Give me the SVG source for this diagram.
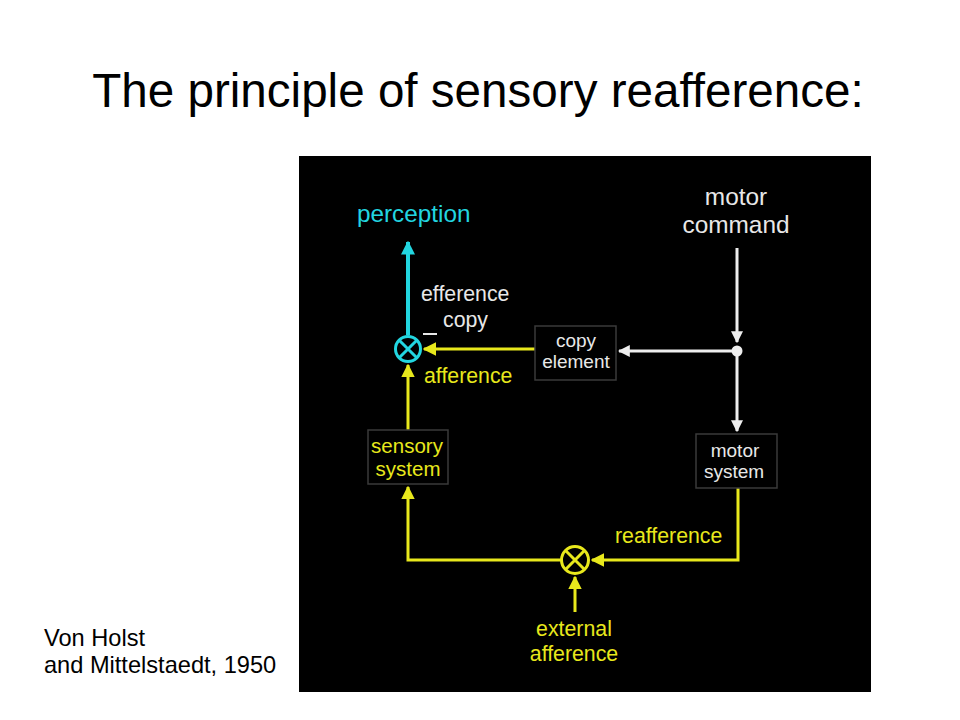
<svg xmlns="http://www.w3.org/2000/svg" width="960" height="720" viewBox="0 0 960 720">
<style>
text{font-family:"Liberation Sans",Arial,sans-serif}
.w{fill:#e8e8e8}.y{fill:#e8e81c}.c{fill:#22d6e0}
.lw{stroke:#eeeeee;stroke-width:3;fill:none}
.ly{stroke:#e8e81c;stroke-width:3;fill:none}
.lc{stroke:#22d6e0;stroke-width:4;fill:none}
.box{fill:#000;stroke:#3a3a3a;stroke-width:1.5}
.lbl{font-size:21.3px}
.sm{font-size:19px;text-anchor:middle}
</style>
<defs>
<marker id="aw" viewBox="0 0 10 10" refX="9" refY="5" markerWidth="4" markerHeight="4" orient="auto" markerUnits="strokeWidth"><path d="M0,0L10,5L0,10z" fill="#eeeeee"/></marker>
<marker id="ay" viewBox="0 0 10 10" refX="9" refY="5" markerWidth="4.5" markerHeight="4.5" orient="auto" markerUnits="strokeWidth"><path d="M0,0L10,5L0,10z" fill="#e8e81c"/></marker>
<marker id="ac" viewBox="0 0 10 10" refX="9" refY="5" markerWidth="3.5" markerHeight="3.5" orient="auto" markerUnits="strokeWidth"><path d="M0,0L10,5L0,10z" fill="#22d6e0"/></marker>
</defs>
<rect width="960" height="720" fill="#fff"/>
<text x="478" y="107" font-size="47.6" text-anchor="middle" fill="#000">The principle of sensory reafference:</text>
<g id="credit"><text x="44" y="646" font-size="23.6" fill="#000">Von Holst</text><text x="44" y="673" font-size="23.6" fill="#000">and Mittelstaedt, 1950</text></g>
<rect x="299" y="156" width="572" height="536" fill="#000"/>
<g id="connectors">
<line class="lc" x1="408" y1="335" x2="408" y2="242" marker-end="url(#ac)"/>
<line class="lw" x1="737" y1="248" x2="737" y2="342" marker-end="url(#aw)"/>
<line class="lw" x1="737" y1="351" x2="619" y2="351" marker-end="url(#aw)"/>
<line class="lw" x1="737" y1="351" x2="737" y2="431" marker-end="url(#aw)"/>
<line class="ly" x1="535" y1="349" x2="424" y2="349" marker-end="url(#ay)"/>
<polyline class="ly" points="738,488 738,560 592,560" marker-end="url(#ay)"/>
<line class="ly" x1="575" y1="612" x2="575" y2="577" marker-end="url(#ay)"/>
<polyline class="ly" points="561,560 408,560 408,487" marker-end="url(#ay)"/>
<line class="ly" x1="408" y1="430" x2="408" y2="365" marker-end="url(#ay)"/>
</g>
<g id="perception"><text class="c" x="357" y="222" font-size="24.3">perception</text></g>
<g id="comparator1"><circle cx="408" cy="349" r="12.5" fill="none" stroke="#22d6e0" stroke-width="3"/><path d="M399.2,340.2L416.8,357.8M416.8,340.2L399.2,357.8" stroke="#22d6e0" stroke-width="3"/></g>
<g id="efference-label"><text class="w lbl" x="421" y="301">efference</text><text class="w lbl" x="443" y="327">copy</text><line x1="423" y1="334" x2="437" y2="334" stroke="#e8e8e8" stroke-width="2"/></g>
<g id="afference-label"><text class="y lbl" x="424" y="383">afference</text></g>
<g id="copy-element"><rect class="box" x="535" y="326" width="81" height="54"/><text class="w sm" x="576" y="347">copy</text><text class="w sm" x="576" y="368">element</text></g>
<g id="dot"><circle cx="737" cy="351" r="5.5" fill="#eeeeee"/></g>
<g id="motor-command"><text class="w" x="736" y="205" font-size="24.4" text-anchor="middle">motor</text><text class="w" x="736" y="233" font-size="24.4" text-anchor="middle">command</text></g>
<g id="motor-system"><rect class="box" x="696" y="434" width="81" height="54"/><text class="w sm" x="735" y="457">motor</text><text class="w sm" x="734" y="478">system</text></g>
<g id="sensory-system"><rect class="box" x="368" y="430" width="80" height="54"/><text class="y" x="407" y="453" font-size="20.5" text-anchor="middle">sensory</text><text class="y" x="408" y="476" font-size="20.5" text-anchor="middle">system</text></g>
<g id="comparator2"><circle cx="575" cy="560" r="13.5" fill="none" stroke="#e8e81c" stroke-width="3"/><path d="M565.5,550.5L584.5,569.5M584.5,550.5L565.5,569.5" stroke="#e8e81c" stroke-width="3"/></g>
<g id="reafference-label"><text class="y lbl" x="615" y="543">reafference</text></g>
<g id="external-afference"><text class="y lbl" x="574" y="636" text-anchor="middle">external</text><text class="y lbl" x="574" y="661" text-anchor="middle">afference</text></g>
</svg>
